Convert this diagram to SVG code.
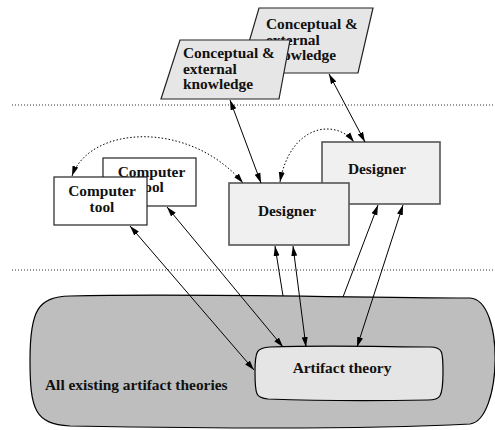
<svg xmlns="http://www.w3.org/2000/svg" width="495" height="430" viewBox="0 0 495 430">
<style>
text{font-family:"Liberation Serif","Times New Roman",serif;font-weight:bold;font-size:15.4px;fill:#111}
.know{fill:#e6e6e6;stroke:#222;stroke-width:1.2}
.tool{fill:#fff;stroke:#222;stroke-width:1.2}
.des{fill:#f0f0f0;stroke:#555;stroke-width:1.6}
.sep{stroke:#333;stroke-width:1;stroke-dasharray:1,2;fill:none}
.c{stroke:#000;stroke-width:1;fill:none}
.d{stroke:#000;stroke-width:1;fill:none;stroke-dasharray:1.5,2}
.m{text-anchor:middle}
</style>
<defs>
<marker id="ah" markerUnits="userSpaceOnUse" markerWidth="11" markerHeight="8" refX="10" refY="3" orient="auto-start-reverse" viewBox="0 0 11 6">
<path d="M0,0 L10,3 L0,6 z" fill="#000"/>
</marker>
</defs>
<line class="sep" x1="12" y1="105" x2="495" y2="105"/>
<line class="sep" x1="12" y1="270" x2="495" y2="270"/>
<g id="all-theories">
<path d="M70,296 C200,293 350,298 470,298 C505,300 502,420 470,424 C350,430 200,428 70,426 C35,424 30,410 30,360 C30,310 38,297 70,296 Z" fill="#bebebe" stroke="#000" stroke-width="1.2"/>
<text x="45" y="390">All existing artifact theories</text>
</g>
<g id="artifact-theory">
<path d="M270,347 C330,345 390,347 430,347 C443,347 443,352 443,372 C443,398 440,400 428,400 C380,401 320,401 268,399 C256,398 255,395 255,372 C255,350 257,348 270,347 Z" fill="#e5e5e5" stroke="#000" stroke-width="1.2"/>
<text class="m" x="342" y="373">Artifact theory</text>
</g>
<g id="knowledge-back">
<polygon class="know" points="259,8 373,8 358,73 240,73"/>
<text x="266" y="29">Conceptual &amp;</text>
<text x="266" y="44.5">external</text>
<text x="266" y="60">knowledge</text>
</g>
<g id="knowledge-front">
<polygon class="know" points="180,40 290,40 279,99 161,99"/>
<text x="183" y="58">Conceptual &amp;</text>
<text x="183" y="73.5">external</text>
<text x="183" y="89">knowledge</text>
</g>
<g id="tool-back">
<rect class="tool" x="103" y="158" width="93" height="48"/>
<text class="m" x="151.5" y="177">Computer</text>
<text class="m" x="151.5" y="192">tool</text>
</g>
<g id="tool-front">
<rect class="tool" x="54" y="177" width="93" height="48"/>
<text class="m" x="102" y="196">Computer</text>
<text class="m" x="102" y="212">tool</text>
</g>
<g id="designer-back">
<rect class="des" x="322" y="142" width="118" height="62"/>
<text class="m" x="377" y="174">Designer</text>
</g>
<g id="designer-front">
<rect class="des" x="229" y="183" width="120" height="62"/>
<text class="m" x="287" y="216">Designer</text>
</g>
<g id="connectors">
<line class="c" x1="230" y1="100" x2="261" y2="183" marker-start="url(#ah)" marker-end="url(#ah)"/>
<line class="c" x1="329" y1="74" x2="365" y2="142" marker-start="url(#ah)" marker-end="url(#ah)"/>
<path class="d" d="M280,182 C290,125 335,118 354,142" marker-start="url(#ah)" marker-end="url(#ah)"/>
<path class="d" d="M72,176 C90,125 190,120 243,183" marker-start="url(#ah)" marker-end="url(#ah)"/>
<line class="c" x1="130" y1="226" x2="254" y2="370" marker-start="url(#ah)" marker-end="url(#ah)"/>
<line class="c" x1="167" y1="207" x2="283" y2="347" marker-start="url(#ah)" marker-end="url(#ah)"/>
<line class="c" x1="283" y1="296" x2="275" y2="246" marker-end="url(#ah)"/>
<line class="c" x1="293" y1="246" x2="306" y2="347" marker-start="url(#ah)" marker-end="url(#ah)"/>
<line class="c" x1="343" y1="297" x2="378" y2="205" marker-end="url(#ah)"/>
<line class="c" x1="403" y1="205" x2="357" y2="347" marker-start="url(#ah)" marker-end="url(#ah)"/>
</g>
</svg>
